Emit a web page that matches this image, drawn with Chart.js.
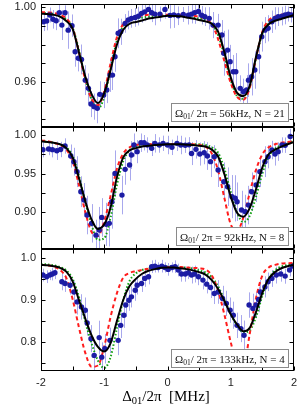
<!DOCTYPE html>
<html>
<head>
<meta charset="utf-8">
<script src="https://cdn.jsdelivr.net/npm/chart.js@4/dist/chart.umd.min.js"></script>
<style>
html, body { margin: 0; padding: 0; background: #fff; }
#wrap { position: relative; width: 299px; height: 407px; }
canvas { position: absolute; left: 0; }
</style>
</head>
<body>
<div id="wrap">
  <canvas id="c1" width="299" height="128" style="top:0px"></canvas>
  <canvas id="c2" width="299" height="123" style="top:127px"></canvas>
  <canvas id="c3" width="299" height="158" style="top:249px"></canvas>
</div>
<script>
// detuning grid for the model curves (MHz)
var fitX = [-2.0,-1.9,-1.8,-1.7,-1.6,-1.5,-1.4,-1.3,-1.2,-1.1,-1.0,-0.9,-0.8,-0.7,-0.6,-0.5,-0.4,-0.3,-0.2,-0.1,
            0.0,0.1,0.2,0.3,0.4,0.5,0.6,0.7,0.8,0.9,1.0,1.1,1.2,1.3,1.4,1.5,1.6,1.7,1.8,1.9,2.0];
var xTicks = [-2,-1.5,-1,-0.5,0,0.5,1,1.5,2];
var xLabels = [-2,-1,0,1,2];

// panel 1 : 56 kHz, N = 21
var p1Ticks = [0.94,0.95,0.96,0.97,0.98,0.99,1.00];
var p1Labels = [0.96,1.00];
var p1x = [-1.96,-1.91,-1.86,-1.81,-1.76,-1.71,-1.67,-1.62,-1.57,-1.51,-1.46,-1.41,-1.36,-1.30,-1.25,-1.21,-1.16,-1.11,-1.07,-1.01,
           -0.96,-0.91,-0.87,-0.83,-0.78,-0.74,-0.67,-0.62,-0.57,-0.51,-0.46,-0.41,-0.36,-0.30,
           -0.25,-0.20,-0.12,-0.04,0.04,0.10,0.17,0.25,0.33,0.38,0.43,0.49,0.54,0.59,0.66,0.72,0.80,0.86,0.89,0.95,
           0.99,1.04,1.08,1.15,1.20,1.25,1.28,1.33,1.38,1.44,1.49,1.54,1.59,1.65,1.70,1.75,1.81,1.86,1.91,1.96];
var p1y = [0.9923,0.9927,0.9959,0.9936,0.9928,0.9971,0.9905,0.9971,0.9878,0.9902,0.9762,0.9727,0.9721,0.9610,0.9566,0.9482,0.9468,0.9459,0.9534,0.9530,
           0.9557,0.9637,0.9637,0.9735,0.9861,0.9869,0.9914,0.9932,0.9941,0.9946,0.9953,0.9968,0.9976,0.9989,
           0.9971,0.9964,0.9964,0.9989,0.9957,0.9960,0.9955,0.9962,0.9958,0.9964,0.9972,0.9978,0.9958,0.9950,0.9941,0.9905,0.9905,0.9852,0.9754,0.9771,
           0.9709,0.9655,0.9655,0.9566,0.9548,0.9557,0.9610,0.9628,0.9664,0.9735,0.9843,0.9878,0.9888,0.9923,0.9941,0.9950,0.9953,0.9959,0.9964,0.9959];
var p1e = [0.005,0.005,0.004,0.005,0.005,0.005,0.008,0.004,0.010,0.006,0.008,0.007,0.008,0.008,0.008,0.007,0.007,0.008,0.007,0.007,
           0.007,0.009,0.008,0.008,0.008,0.007,0.005,0.005,0.005,0.005,0.005,0.005,0.005,0.005,
           0.005,0.006,0.004,0.005,0.007,0.007,0.005,0.004,0.005,0.005,0.006,0.005,0.005,0.005,0.006,0.007,0.006,0.008,0.012,0.011,
           0.009,0.009,0.010,0.007,0.007,0.008,0.009,0.010,0.010,0.009,0.008,0.007,0.007,0.006,0.006,0.005,0.005,0.005,0.004,0.004];
var p1Black = [0.9966,0.9964,0.9960,0.9950,0.9927,0.9885,0.9760,0.9630,0.9535,0.9487,0.9540,0.9665,0.9800,0.9880,0.9912,0.9922,0.9930,0.9940,0.9945,0.9950,
               0.9955,0.9954,0.9952,0.9946,0.9940,0.9932,0.9925,0.9912,0.9870,0.9760,0.9625,0.9542,0.9525,0.9580,0.9735,0.9865,0.9910,0.9928,0.9938,0.9948,0.9959];
var p1Red = [0.9975,0.9973,0.9970,0.9960,0.9940,0.9890,0.9760,0.9610,0.9510,0.9475,0.9550,0.9700,0.9840,0.9910,0.9940,0.9950,0.9955,0.9960,0.9960,0.9960,
             0.9960,0.9960,0.9960,0.9960,0.9955,0.9950,0.9940,0.9910,0.9830,0.9710,0.9595,0.9520,0.9505,0.9570,0.9730,0.9870,0.9930,0.9950,0.9960,0.9965,0.9970];
var p1Green = [0.9970,0.9968,0.9965,0.9955,0.9935,0.9890,0.9770,0.9620,0.9505,0.9457,0.9520,0.9670,0.9820,0.9900,0.9930,0.9940,0.9945,0.9950,0.9952,0.9954,
               0.9955,0.9955,0.9954,0.9950,0.9945,0.9940,0.9930,0.9910,0.9850,0.9740,0.9610,0.9525,0.9510,0.9575,0.9730,0.9860,0.9920,0.9940,0.9950,0.9960,0.9965];

// panel 2 : 92 kHz, N = 8
var p2Ticks = [0.875,0.900,0.925,0.950,0.975,1.000];
var p2Labels = [0.90,0.95,1.00];
var p2x = [-1.97,-1.88,-1.82,-1.75,-1.69,-1.62,-1.53,-1.48,-1.43,-1.37,-1.32,-1.27,-1.20,-1.13,-1.08,-1.04,-0.97,-0.92,-0.88,-0.83,
           -0.72,-0.67,-0.60,-0.57,-0.53,-0.48,-0.42,-0.37,-0.32,
           -0.25,-0.20,-0.13,-0.07,0.00,0.07,0.15,0.21,0.28,0.34,0.38,0.45,0.51,0.58,0.63,0.68,0.74,0.80,0.89,0.95,
           1.02,1.07,1.10,1.17,1.23,1.28,1.33,1.40,1.46,1.54,1.59,1.65,1.70,1.75,1.81,1.86,1.94];
var p2y = [0.9810,0.9818,0.9810,0.9796,0.9812,0.9857,0.9727,0.9654,0.9524,0.9264,0.9156,0.8961,0.8853,0.8700,0.8766,0.8930,0.8840,0.8853,0.9134,0.9500,
           0.9220,0.9554,0.9610,0.9740,0.9870,0.9784,0.9900,0.9900,0.9870,
           0.9827,0.9892,0.9870,0.9892,0.9870,0.9840,0.9892,0.9870,0.9868,0.9872,0.9760,0.9814,0.9753,0.9770,0.9727,0.9654,0.9718,0.9545,0.9394,0.9329,
           0.9200,0.9178,0.9134,0.9026,0.9004,0.9090,0.9264,0.9350,0.9524,0.9654,0.9718,0.9805,0.9753,0.9784,0.9870,0.9868,0.9980];
var p2e = [0.010,0.008,0.010,0.012,0.010,0.010,0.015,0.018,0.020,0.020,0.022,0.025,0.025,0.020,0.030,0.025,0.028,0.030,0.035,0.030,
           0.025,0.020,0.020,0.018,0.015,0.015,0.012,0.010,0.010,
           0.010,0.012,0.010,0.010,0.012,0.010,0.010,0.012,0.010,0.010,0.015,0.012,0.015,0.015,0.018,0.020,0.015,0.022,0.025,0.025,
           0.028,0.030,0.025,0.025,0.022,0.025,0.025,0.022,0.020,0.020,0.015,0.012,0.015,0.012,0.010,0.010,0.010];
var p2Black = [0.992,0.991,0.990,0.988,0.983,0.971,0.944,0.914,0.890,0.878,0.884,0.906,0.945,0.971,0.980,0.983,0.985,0.986,0.987,0.9875,
               0.988,0.988,0.988,0.9875,0.987,0.986,0.985,0.981,0.972,0.949,0.920,0.899,0.894,0.905,0.930,0.958,0.975,0.981,0.985,0.988,0.991];
var p2Red = [0.993,0.992,0.990,0.987,0.981,0.966,0.935,0.900,0.874,0.869,0.888,0.921,0.956,0.976,0.984,0.987,0.988,0.988,0.988,0.988,
             0.988,0.988,0.988,0.988,0.988,0.987,0.985,0.976,0.954,0.918,0.884,0.876,0.893,0.925,0.955,0.975,0.984,0.988,0.990,0.991,0.992];
var p2Green = [0.992,0.991,0.990,0.988,0.984,0.973,0.947,0.913,0.883,0.864,0.866,0.893,0.935,0.966,0.980,0.985,0.987,0.988,0.988,0.988,
               0.988,0.988,0.988,0.988,0.988,0.988,0.987,0.984,0.977,0.956,0.926,0.899,0.887,0.895,0.920,0.950,0.972,0.982,0.987,0.990,0.992];

// panel 3 : 133 kHz, N = 4
var p3Ticks = [0.75,0.80,0.85,0.90,0.95,1.00];
var p3Labels = [0.8,0.9,1.0];
var p3x = [-1.97,-1.91,-1.86,-1.82,-1.78,-1.67,-1.62,-1.54,-1.48,-1.43,-1.36,-1.30,-1.27,-1.21,-1.16,-1.08,-1.04,-0.99,-0.91,-0.78,
           -0.74,-0.69,-0.66,-0.61,-0.57,-0.51,-0.48,-0.41,-0.36,-0.30,
           -0.25,-0.20,-0.15,-0.09,-0.04,0.01,0.07,0.12,0.17,0.22,0.28,0.33,0.38,0.43,0.49,0.56,0.62,0.68,0.74,0.80,
           0.87,0.93,0.99,1.04,1.10,1.16,1.21,1.29,1.35,1.40,1.44,1.47,1.54,1.59,1.65,1.72,1.79,1.86,1.93,1.98];
var p3y = [0.959,0.955,0.959,0.9613,0.9644,0.943,0.939,0.935,0.919,0.8955,0.8836,0.8758,0.8456,0.8085,0.7689,0.811,0.7648,0.7848,0.8045,0.8045,
           0.840,0.864,0.888,0.8995,0.9074,0.923,0.935,0.939,0.951,0.955,
           0.9787,0.980,0.977,0.980,0.977,0.9724,0.977,0.9787,0.9708,0.9613,0.9613,0.9644,0.959,0.9613,0.955,0.947,0.9375,0.9297,0.9154,0.919,
           0.9035,0.8917,0.8758,0.864,0.840,0.8323,0.8164,0.888,0.8798,0.888,0.9012,0.919,0.931,0.943,0.951,0.959,0.9613,0.9565,0.9708,0.980];
var p3e = [0.015,0.015,0.012,0.015,0.015,0.020,0.020,0.022,0.025,0.030,0.030,0.030,0.030,0.032,0.035,0.040,0.035,0.035,0.030,0.035,
           0.030,0.030,0.028,0.025,0.025,0.025,0.022,0.020,0.020,0.018,
           0.015,0.015,0.012,0.015,0.012,0.015,0.012,0.015,0.015,0.018,0.018,0.015,0.020,0.020,0.020,0.022,0.022,0.025,0.025,0.028,
           0.030,0.030,0.030,0.032,0.030,0.032,0.035,0.030,0.035,0.030,0.030,0.028,0.025,0.022,0.020,0.020,0.018,0.018,0.015,0.015];
var p3Black = [0.983,0.982,0.980,0.976,0.967,0.944,0.900,0.856,0.816,0.789,0.778,0.798,0.850,0.900,0.933,0.950,0.962,0.969,0.973,0.976,
               0.977,0.977,0.975,0.973,0.970,0.966,0.960,0.947,0.926,0.898,0.866,0.842,0.826,0.834,0.872,0.917,0.950,0.966,0.975,0.980,0.983];
var p3Red = [0.983,0.982,0.979,0.971,0.952,0.902,0.835,0.775,0.742,0.745,0.790,0.860,0.916,0.953,0.964,0.968,0.971,0.974,0.976,0.977,
             0.978,0.978,0.978,0.977,0.976,0.975,0.972,0.958,0.922,0.865,0.800,0.748,0.742,0.820,0.905,0.958,0.977,0.983,0.986,0.987,0.988];
var p3Green = [0.985,0.984,0.982,0.978,0.970,0.950,0.907,0.849,0.797,0.757,0.739,0.765,0.833,0.900,0.945,0.963,0.971,0.975,0.977,0.978,
               0.979,0.979,0.978,0.976,0.974,0.970,0.965,0.954,0.932,0.900,0.866,0.840,0.823,0.828,0.860,0.910,0.950,0.970,0.979,0.983,0.986];

var SANS = '"Liberation Sans", Arial, sans-serif';
var SERIF = '"Liberation Serif", "Times New Roman", serif';

function near(list, v) {
  return list.some(function (t) { return Math.abs(t - v) < 1e-6; });
}

function makePanel(id, p) {
  var pts = p.x.map(function (x, i) { return { x: x, y: p.y[i] }; });
  function curve(vals) { return fitX.map(function (x, i) { return { x: x, y: vals[i] }; }); }

  var deco = {
    id: 'deco',
    beforeDatasetsDraw: function (chart) {
      var ctx = chart.ctx, a = chart.chartArea, xs = chart.scales.x, ys = chart.scales.y;
      ctx.save();
      ctx.beginPath();
      ctx.rect(a.left, a.top, a.right - a.left, a.bottom - a.top);
      ctx.clip();
      ctx.strokeStyle = 'rgba(110,110,225,0.6)';
      ctx.lineWidth = 1;
      p.x.forEach(function (x, i) {
        var px = Math.round(xs.getPixelForValue(x)) + 0.5;
        ctx.beginPath();
        ctx.moveTo(px, ys.getPixelForValue(p.y[i] + p.e[i]));
        ctx.lineTo(px, ys.getPixelForValue(p.y[i] - p.e[i]));
        ctx.stroke();
      });
      ctx.restore();
    },
    afterDraw: function (chart) {
      var ctx = chart.ctx, a = chart.chartArea, xs = chart.scales.x, ys = chart.scales.y;
      var L = Math.round(a.left) + 0.5, R = Math.round(a.right) - 0.5;
      var T = Math.round(a.top) + 0.5, B = Math.round(a.bottom) - 0.5;
      ctx.save();
      ctx.strokeStyle = '#000';
      ctx.lineWidth = 1;
      ctx.strokeRect(L, T, R - L, B - T);
      ctx.beginPath();
      ys.ticks.forEach(function (t) {
        var py = Math.round(ys.getPixelForValue(t.value)) + 0.5;
        ctx.moveTo(L, py); ctx.lineTo(L + 4, py);
        ctx.moveTo(R, py); ctx.lineTo(R - 4, py);
      });
      xs.ticks.forEach(function (t) {
        var px = Math.round(xs.getPixelForValue(t.value)) + 0.5;
        ctx.moveTo(px, T); ctx.lineTo(px, T + 4);
        ctx.moveTo(px, B); ctx.lineTo(px, B - 4);
      });
      ctx.stroke();

      // legend box with the Rabi frequency and N
      var big = '11px ' + SERIF, small = '7.5px ' + SERIF;
      ctx.font = big;
      var w1 = ctx.measureText('\u03A9').width;
      ctx.font = small;
      var w2 = ctx.measureText('01').width;
      ctx.font = big;
      var w3 = ctx.measureText(p.label).width;
      var tw = w1 + w2 + w3;
      var bx1 = Math.round(a.right - 6) + 0.5, by2 = Math.round(a.bottom - p.boxGap) + 0.5;
      var bx0 = Math.round(bx1 - tw - 8), by0 = by2 - 18;
      ctx.fillStyle = '#fff';
      ctx.fillRect(bx0, by0, bx1 - bx0, by2 - by0);
      ctx.strokeStyle = '#8a8a8a';
      ctx.strokeRect(bx0 + 0.5, by0, bx1 - bx0 - 0.5, by2 - by0);
      ctx.fillStyle = '#111';
      ctx.textBaseline = 'alphabetic';
      var tx = bx0 + 4, ty = by2 - 5;
      ctx.font = big; ctx.fillText('\u03A9', tx, ty); tx += w1;
      ctx.font = small; ctx.fillText('01', tx, ty + 2); tx += w2;
      ctx.font = big; ctx.fillText(p.label, tx, ty);

      if (p.showX) {
        var t1 = '\u0394', t2 = '01', t3 = '/2\u03C0  [MHz]';
        ctx.font = '15px ' + SERIF;
        var a1 = ctx.measureText(t1).width, a3 = ctx.measureText(t3).width;
        ctx.font = '10.5px ' + SERIF;
        var a2 = ctx.measureText(t2).width;
        var sx = 166 - (a1 + a2 + a3) / 2, sy = a.bottom + 30;
        ctx.fillStyle = '#000';
        ctx.font = '15px ' + SERIF; ctx.fillText(t1, sx, sy); sx += a1;
        ctx.font = '10.5px ' + SERIF; ctx.fillText(t2, sx, sy + 3); sx += a2;
        ctx.font = '15px ' + SERIF; ctx.fillText(t3, sx, sy);
      }
      ctx.restore();
    }
  };

  return new Chart(document.getElementById(id), {
    type: 'scatter',
    data: {
      datasets: [
        { data: curve(p.black), showLine: true, borderColor: '#000', borderWidth: 2, pointRadius: 0,
          cubicInterpolationMode: 'monotone', order: 0 },
        { data: pts, showLine: false, pointRadius: 2.7, pointBackgroundColor: '#1c1ca4',
          pointBorderColor: '#1c1ca4', pointBorderWidth: 0, order: 1 },
        { data: curve(p.red), showLine: true, borderColor: '#ff1c1c', borderWidth: 2, borderDash: [4, 3],
          pointRadius: 0, cubicInterpolationMode: 'monotone', order: 2 },
        { data: curve(p.green), showLine: true, borderColor: '#12a012', borderWidth: 2, borderDash: [1.5, 2],
          pointRadius: 0, cubicInterpolationMode: 'monotone', order: 3 }
      ]
    },
    options: {
      responsive: false,
      animation: false,
      events: [],
      layout: { autoPadding: false, padding: { top: p.padTop, bottom: p.padBottom, left: 0, right: 5 } },
      plugins: { legend: { display: false }, tooltip: { enabled: false } },
      scales: {
        x: {
          type: 'linear', min: -2, max: 2, display: p.showX,
          afterBuildTicks: function (s) { s.ticks = xTicks.map(function (v) { return { value: v }; }); },
          afterFit: function (s) {
            if (p.showX) s.height = 36;
            s.paddingLeft = 0; s.paddingRight = 0;
          },
          grid: { display: false, drawTicks: false }, border: { display: false },
          ticks: {
            autoSkip: false, maxRotation: 0, padding: 5, color: '#222', font: { family: SANS, size: 11 },
            callback: function (v) { return near(xLabels, v) ? String(v) : ''; }
          }
        },
        y: {
          min: p.min, max: p.max,
          afterBuildTicks: function (s) { s.ticks = p.ticks.map(function (v) { return { value: v }; }); },
          afterFit: function (s) { s.width = 41; s.paddingTop = 0; s.paddingBottom = 0; },
          grid: { display: false, drawTicks: false }, border: { display: false },
          ticks: {
            autoSkip: false, padding: 5, color: '#222', font: { family: SANS, size: 11 },
            callback: function (v) { return near(p.labels, v) ? v.toFixed(p.digits) : ''; }
          }
        }
      }
    },
    plugins: [deco]
  });
}

makePanel('c1', { x: p1x, y: p1y, e: p1e, black: p1Black, red: p1Red, green: p1Green,
  ticks: p1Ticks, labels: p1Labels, digits: 2, min: 0.9359, max: 1.0018,
  padTop: 4, padBottom: 1, showX: false, boxGap: 6, label: '/ 2\u03C0 = 56kHz, N = 21' });
makePanel('c2', { x: p2x, y: p2y, e: p2e, black: p2Black, red: p2Red, green: p2Green,
  ticks: p2Ticks, labels: p2Labels, digits: 2, min: 0.852, max: 1.0104,
  padTop: 0, padBottom: 1, showX: false, boxGap: 4, label: '/ 2\u03C0 = 92kHz, N = 8' });
makePanel('c3', { x: p3x, y: p3y, e: p3e, black: p3Black, red: p3Red, green: p3Green,
  ticks: p3Ticks, labels: p3Labels, digits: 1, min: 0.732, max: 1.0206,
  padTop: 0, padBottom: 0, showX: true, boxGap: 4, label: '/ 2\u03C0 = 133kHz, N = 4' });
</script>
</body>
</html>
